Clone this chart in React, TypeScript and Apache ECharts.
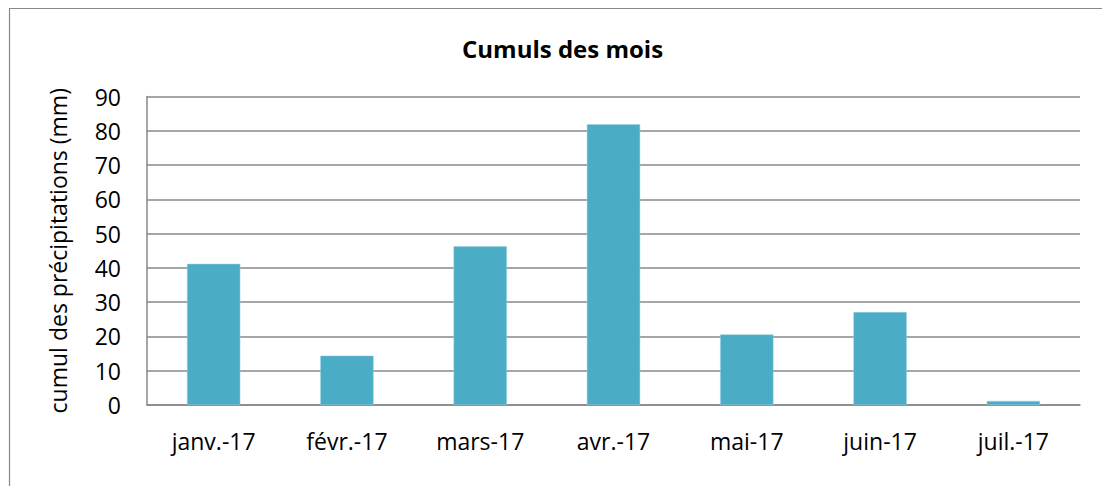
import React, { useEffect, useRef } from "react";
import * as echarts from "echarts";

const categories = ["janv.-17", "févr.-17", "mars-17", "avr.-17", "mai-17", "juin-17", "juil.-17"];
const values = [41.2, 14.4, 46.3, 81.9, 20.6, 27.1, 1.2];
const titleText = "Cumuls des mois";
const yAxisName = "cumul des précipitations (mm)";

const FONT = "'Open Sans', 'Noto Sans', sans-serif";

export default function App() {
  const ref = useRef<HTMLDivElement>(null);
  useEffect(() => {
    if (!ref.current) return;
    const chart = echarts.init(ref.current, undefined, { renderer: "svg" });
    chart.setOption({
      animation: false,
      backgroundColor: "#ffffff",
      title: {
        text: titleText,
        left: 457,
        top: 31,
        textStyle: { fontFamily: FONT, fontSize: 24, fontWeight: "bold", color: "#000" },
      },
      graphic: [
        {
          type: "rect",
          shape: { x: 9.5, y: 8.5, width: 1200, height: 600 },
          style: { fill: "none", stroke: "#888888", lineWidth: 1.2 },
          silent: true,
        },
      ],
      grid: { left: 147, right: 22, top: 96.5, bottom: 81, containLabel: false },
      xAxis: {
        type: "category",
        data: categories,
        axisLine: { show: true, lineStyle: { color: "#888888", width: 1.5 } },
        axisTick: { show: false },
        axisLabel: { fontFamily: FONT, fontSize: 23, color: "#000", margin: 24 },
      },
      yAxis: {
        type: "value",
        min: 0,
        max: 90,
        interval: 10,
        name: yAxisName,
        nameLocation: "middle",
        nameGap: 78,
        nameRotate: 90,
        nameTextStyle: { fontFamily: FONT, fontSize: 23, color: "#000" },
        axisLine: { show: true, lineStyle: { color: "#888888", width: 1.5 } },
        axisTick: { show: false },
        axisLabel: { fontFamily: FONT, fontSize: 23, color: "#000", margin: 26 },
        splitLine: { show: true, lineStyle: { color: "#888888", width: 1.5 } },
      },
      series: [
        {
          type: "bar",
          data: values,
          barWidth: "40%",
          itemStyle: { color: "#4BACC6", borderColor: "#9DD3E2", borderWidth: 0.5 },
        },
      ],
    });
    return () => chart.dispose();
  }, []);
  return (
    <div
      ref={ref}
      style={{ position: "fixed", left: 0, top: 0, width: 1102, height: 486 }}
    />
  );
}
